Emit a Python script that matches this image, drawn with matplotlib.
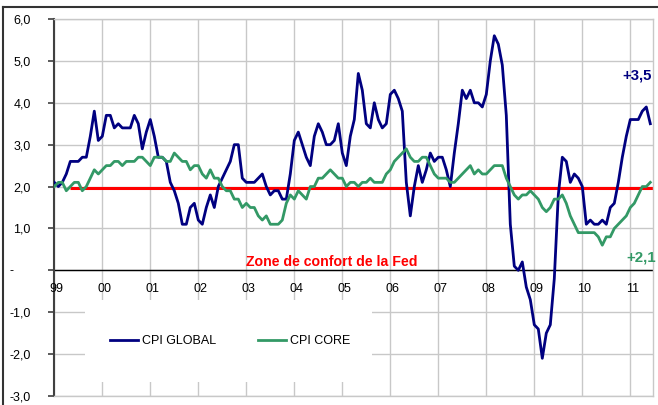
import matplotlib
matplotlib.use("Agg")
import matplotlib.pyplot as plt
from matplotlib.lines import Line2D
from matplotlib.patches import Rectangle

plt.rcParams['font.family'] = ['Liberation Sans', 'DejaVu Sans']

# US CPI, glissement annuel, mensuel de mai 1999 a oct. 2011
cpi_global = [2.1, 2.0, 2.1, 2.3, 2.6, 2.6, 2.6, 2.7,
              2.7, 3.2, 3.8, 3.1, 3.2, 3.7, 3.7, 3.4, 3.5, 3.4, 3.4, 3.4,
              3.7, 3.5, 2.9, 3.3, 3.6, 3.2, 2.7, 2.7, 2.6, 2.1, 1.9, 1.6,
              1.1, 1.1, 1.5, 1.6, 1.2, 1.1, 1.5, 1.8, 1.5, 2.0, 2.2, 2.4,
              2.6, 3.0, 3.0, 2.2, 2.1, 2.1, 2.1, 2.2, 2.3, 2.0, 1.8, 1.9,
              1.9, 1.7, 1.7, 2.3, 3.1, 3.3, 3.0, 2.7, 2.5, 3.2, 3.5, 3.3,
              3.0, 3.0, 3.1, 3.5, 2.8, 2.5, 3.2, 3.6, 4.7, 4.3, 3.5, 3.4,
              4.0, 3.6, 3.4, 3.5, 4.2, 4.3, 4.1, 3.8, 2.1, 1.3, 2.0, 2.5,
              2.1, 2.4, 2.8, 2.6, 2.7, 2.7, 2.4, 2.0, 2.8, 3.5, 4.3, 4.1,
              4.3, 4.0, 4.0, 3.9, 4.2, 5.0, 5.6, 5.4, 4.9, 3.7, 1.1, 0.1,
              0.0, 0.2, -0.4, -0.7, -1.3, -1.4, -2.1, -1.5, -1.3, -0.2, 1.8, 2.7,
              2.6, 2.1, 2.3, 2.2, 2.0, 1.1, 1.2, 1.1, 1.1, 1.2, 1.1, 1.5,
              1.6, 2.1, 2.7, 3.2, 3.6, 3.6, 3.6, 3.8, 3.9, 3.5]

cpi_core = [2.0, 2.1, 2.1, 1.9, 2.0, 2.1, 2.1, 1.9,
            2.0, 2.2, 2.4, 2.3, 2.4, 2.5, 2.5, 2.6, 2.6, 2.5, 2.6, 2.6,
            2.6, 2.7, 2.7, 2.6, 2.5, 2.7, 2.7, 2.7, 2.6, 2.6, 2.8, 2.7,
            2.6, 2.6, 2.4, 2.5, 2.5, 2.3, 2.2, 2.4, 2.2, 2.2, 2.0, 1.9,
            1.9, 1.7, 1.7, 1.5, 1.6, 1.5, 1.5, 1.3, 1.2, 1.3, 1.1, 1.1,
            1.1, 1.2, 1.6, 1.8, 1.7, 1.9, 1.8, 1.7, 2.0, 2.0, 2.2, 2.2,
            2.3, 2.4, 2.3, 2.2, 2.2, 2.0, 2.1, 2.1, 2.0, 2.1, 2.1, 2.2,
            2.1, 2.1, 2.1, 2.3, 2.4, 2.6, 2.7, 2.8, 2.9, 2.7, 2.6, 2.6,
            2.7, 2.7, 2.5, 2.3, 2.2, 2.2, 2.2, 2.1, 2.1, 2.2, 2.3, 2.4,
            2.5, 2.3, 2.4, 2.3, 2.3, 2.4, 2.5, 2.5, 2.5, 2.2, 2.0, 1.8,
            1.7, 1.8, 1.8, 1.9, 1.8, 1.7, 1.5, 1.4, 1.5, 1.7, 1.7, 1.8,
            1.6, 1.3, 1.1, 0.9, 0.9, 0.9, 0.9, 0.9, 0.8, 0.6, 0.8, 0.8,
            1.0, 1.1, 1.2, 1.3, 1.5, 1.6, 1.8, 2.0, 2.0, 2.1]

year_labels = ["99", "00", "01", "02", "03", "04", "05", "06", "07", "08", "09", "10", "11"]
y_ticks = [-3, -2, -1, 0, 1, 2, 3, 4, 5, 6]
y_labels = ["-3,0", "-2,0", "-1,0", "", "1,0", "2,0", "3,0", "4,0", "5,0", "6,0"]

fed_target = 1.97
fed_start = 4

navy = "#000080"
green = "#339966"

W, H = 658, 405
fig = plt.figure(figsize=(W / 100, H / 100), dpi=100)
ax = fig.add_axes([54.3 / W, 1 - 396 / H, (652.7 - 54.3) / W, (396 - 19) / H])

months = list(range(len(cpi_global)))
x_max = 149.6

ax.set_xlim(0, x_max)
ax.set_ylim(-3, 6)

# grille
ax.set_xticks([12 * i for i in range(len(year_labels))])
ax.set_xticklabels([])
ax.tick_params(axis='x', length=0)
ax.set_yticks(y_ticks)
ax.set_yticklabels(y_labels, fontsize=9)
ax.tick_params(axis='y', length=4, width=1.2, color="#404040", pad=13)
ax.grid(True, color="#c8c8c8", linewidth=1)
ax.set_axisbelow(True)

for s in ["top", "right", "bottom"]:
    ax.spines[s].set_color("#c8c8c8")
    ax.spines[s].set_linewidth(1)
ax.spines["left"].set_color("#404040")
ax.spines["left"].set_linewidth(1.5)

ax.axhline(0, color="black", linewidth=1, zorder=1.5)

# zone sans grille derriere la legende
ax.add_patch(Rectangle((85 / W, 1 - 382 / H), (372 - 85) / W, (382 - 300) / H,
                       transform=fig.transFigure, facecolor="white", edgecolor="none", zorder=1))

ax.hlines(fed_target, fed_start, x_max, color="red", linewidth=2.2, zorder=2)

ax.plot(months, cpi_global, color=navy, linewidth=2, label="CPI GLOBAL", zorder=3)
ax.plot(months, cpi_core, color=green, linewidth=2, label="CPI CORE", zorder=3)

for i, lab in enumerate(year_labels):
    ax.text(12 * i + 0.5, -0.45, lab, ha='center', va='center', fontsize=9)

fig.text(12 / W, 1 - 271 / H, "-", ha='center', va='center', fontsize=9)

ax.text(48, 0.21, "Zone de confort de la Fed", color="red", fontweight="bold",
        fontsize=10.2, ha='left', va='center')
ax.text(141.9, 4.66, "+3,5", color=navy, fontweight="bold", fontsize=10.8,
        ha='left', va='center', clip_on=False)
ax.text(143.1, 0.31, "+2,1", color=green, fontweight="bold", fontsize=10.8,
        ha='left', va='center', clip_on=False)

leg = ax.legend(loc='center', bbox_to_anchor=(230 / W, 1 - 341 / H),
                bbox_transform=fig.transFigure, ncol=2, frameon=False,
                fontsize=9, handlelength=2.3, handletextpad=0.3, columnspacing=3.3)

# cadre exterieur
fig.add_artist(Line2D([3 / W, 1], [1 - 6.5 / H, 1 - 6.5 / H], color="#333333", linewidth=1.5))
fig.add_artist(Line2D([3.3 / W, 3.3 / W], [0, 1 - 6.5 / H], color="#333333", linewidth=1.5))

fig.savefig("out.png", dpi=100)
